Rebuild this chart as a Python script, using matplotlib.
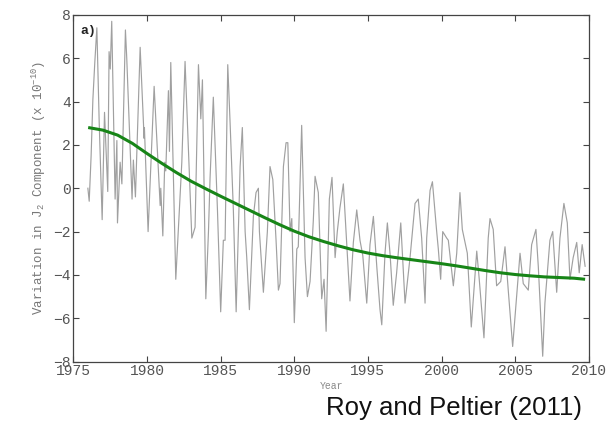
import matplotlib
matplotlib.use("Agg")
import matplotlib.pyplot as plt

years = [1975.98, 1976.07, 1976.2, 1976.32, 1976.45, 1976.59, 1976.75, 1976.95, 1977.11, 1977.33,
         1977.42, 1977.5, 1977.6, 1977.83, 1977.95, 1977.99, 1978.17, 1978.29, 1978.53, 1978.62,
         1978.98, 1979.07, 1979.21, 1979.53, 1979.8, 1979.82, 1980.07, 1980.48, 1980.89, 1980.93,
         1981.07, 1981.2, 1981.27, 1981.45, 1981.52, 1981.61, 1981.95, 1982.36, 1982.58, 1983.04,
         1983.26, 1983.49, 1983.65, 1983.76, 1983.99, 1984.17, 1984.28, 1984.5, 1984.78, 1985.0,
         1985.18, 1985.3, 1985.48, 1985.64, 1985.86, 1986.05, 1986.32, 1986.47, 1986.66, 1986.77,
         1986.95, 1987.22, 1987.4, 1987.56, 1987.63, 1987.9, 1988.17, 1988.35, 1988.54, 1988.76,
         1988.92, 1989.03, 1989.26, 1989.44, 1989.56, 1989.71, 1989.83, 1990.0, 1990.17, 1990.27,
         1990.5, 1990.73, 1990.89, 1991.07, 1991.29, 1991.41, 1991.63, 1991.86, 1992.02, 1992.16,
         1992.38, 1992.56, 1992.77, 1992.92, 1993.1, 1993.33, 1993.6, 1993.78, 1994.01, 1994.24,
         1994.46, 1994.65, 1994.92, 1995.14, 1995.37, 1995.6, 1995.82, 1995.94, 1996.16, 1996.32,
         1996.5, 1996.72, 1996.95, 1997.23, 1997.52, 1997.86, 1998.2, 1998.42, 1998.65, 1998.88,
         1998.99, 1999.22, 1999.38, 1999.67, 1999.78, 1999.94, 2000.08, 2000.35, 2000.46, 2000.8,
         2001.03, 2001.25, 2001.41, 2001.75, 2002.02, 2002.39, 2002.56, 2002.88, 2003.17, 2003.29,
         2003.51, 2003.74, 2004.02, 2004.31, 2004.53, 2004.83, 2005.1, 2005.33, 2005.55, 2005.89,
         2006.12, 2006.41, 2006.57, 2006.87, 2007.02, 2007.36, 2007.55, 2007.82, 2008.04, 2008.31,
         2008.54, 2008.72, 2008.94, 2009.18, 2009.35, 2009.55, 2009.75]
j2 = [0.0, -0.6, 1.5, 4.1, 5.8, 7.4, 3.0, -1.45, 3.5, -0.15,
      6.3, 5.5, 7.7, -0.5, 2.2, -1.6, 1.2, 0.2, 7.3, 6.0,
      -0.5, 1.3, -0.4, 6.5, 2.3, 2.8, -2.0, 4.7, -0.8, 0.0,
      -2.2, 1.2, 0.8, 4.5, 1.7, 5.8, -4.2, 1.2, 5.85, -2.3,
      -1.8, 5.7, 3.2, 5.0, -5.1, -2.0, 0.5, 4.2, -1.0, -5.7,
      -2.4, -2.4, 5.7, 3.0, -1.0, -5.7, 1.0, 2.8, -2.0, -3.2,
      -5.6, -1.3, -0.2, 0.0, -2.0, -4.8, -2.0, 1.0, 0.4, -2.4,
      -4.7, -4.4, 1.0, 2.1, 2.1, -2.0, -1.4, -6.2, -2.8, -2.7,
      2.9, -3.2, -5.0, -4.3, -1.5, 0.55, -0.2, -5.1, -4.2, -6.6,
      -0.5, 0.5, -3.2, -2.0, -0.9, 0.2, -3.0, -5.2, -2.5, -1.0,
      -2.4, -3.1, -5.3, -2.6, -1.3, -3.6, -5.6, -6.3, -3.0, -1.6,
      -3.0, -5.4, -3.9, -1.6, -5.3, -3.2, -0.7, -0.5, -2.3, -5.3,
      -2.3, -0.1, 0.3, -2.0, -2.8, -4.2, -2.0, -2.3, -2.4, -4.5,
      -3.0, -0.2, -1.9, -3.0, -6.4, -2.9, -4.2, -6.9, -2.3, -1.4,
      -1.9, -4.5, -4.3, -2.7, -4.7, -7.3, -5.0, -3.0, -4.4, -4.7,
      -2.6, -1.9, -3.6, -7.75, -5.3, -2.4, -2.0, -4.8, -2.3, -0.7,
      -1.6, -4.2, -3.2, -2.5, -3.9, -2.6, -3.6]

# smooth trend (green)
trend_years = [1976, 1977, 1978, 1979, 1980, 1981, 1982, 1983, 1984, 1985, 1986, 1987,
               1988, 1989, 1990, 1991, 1992, 1993, 1994, 1995, 1996, 1997, 1998, 1999,
               2000, 2001, 2002, 2003, 2004, 2005, 2006, 2007, 2008, 2009, 2009.75]
trend = [2.8, 2.68, 2.45, 2.07, 1.6, 1.15, 0.72, 0.32, -0.03, -0.37, -0.7, -1.03,
         -1.36, -1.68, -1.98, -2.24, -2.46, -2.66, -2.84, -2.99, -3.11, -3.21, -3.3, -3.39,
         -3.48, -3.58, -3.69, -3.8, -3.9, -3.98, -4.04, -4.09, -4.12, -4.15, -4.2]

xticks = [1975, 1980, 1985, 1990, 1995, 2000, 2005, 2010]
yticks = [-8, -6, -4, -2, 0, 2, 4, 6, 8]

plt.rcParams['font.family'] = ['Liberation Mono', 'DejaVu Sans Mono']
plt.rcParams['mathtext.fontset'] = 'custom'
plt.rcParams['mathtext.rm'] = 'Liberation Mono'
plt.rcParams['mathtext.it'] = 'Liberation Mono'

fig = plt.figure(figsize=(6.07, 4.23), dpi=100)
ax = fig.add_axes([0.121, 0.145, 0.849, 0.820])

ax.plot(years, j2, color='#a0a0a0', lw=0.85)
ax.plot(trend_years, trend, color='#178517', lw=2.2, solid_capstyle='butt')

ax.set_xlim(1975, 2010)
ax.set_ylim(-8, 8)
ax.set_xticks(xticks)
ax.set_yticks(yticks)
ax.tick_params(direction='in', top=True, right=True, length=4, width=0.8,
               labelsize=10.5, labelcolor='#555555', color='#444444', pad=2)
for s in ax.spines.values():
    s.set_color('#444444')
    s.set_linewidth(0.9)

ax.set_xlabel('Year', fontsize=7, color='#888888', labelpad=2)
ax.set_ylabel(r'Variation in J$_2$ Component (x 10$^{-10}$)', fontsize=9,
              color='#777777', labelpad=4)
ax.text(0.014, 0.972, 'a)', transform=ax.transAxes, fontsize=9.5,
        fontweight='bold', va='top', ha='left', color='#222222')

fig.text(0.748, 0.035, 'Roy and Peltier (2011)', fontsize=18.5,
         family='Liberation Sans', ha='center', va='center', color='#111111')

fig.savefig('out.png', dpi=100)
